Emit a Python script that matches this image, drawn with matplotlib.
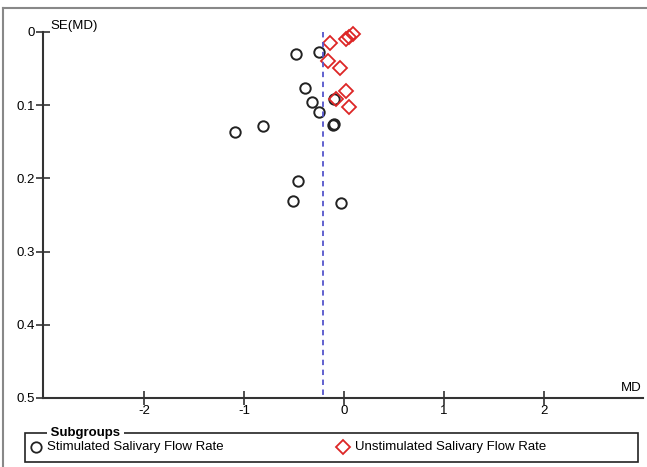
import matplotlib.pyplot as plt
from matplotlib.lines import Line2D
from matplotlib.patches import Rectangle

plt.rcParams['font.family'] = ['Liberation Sans', 'DejaVu Sans']

# stimulated salivary flow rate (circles)
stim_md = [-0.48, -0.25, -0.39, -0.32, -0.25, -0.10, -0.11, -0.10, -0.81, -1.09, -0.46, -0.51, -0.03]
stim_se = [0.030, 0.027, 0.077, 0.096, 0.109, 0.092, 0.127, 0.126, 0.128, 0.136, 0.204, 0.231, 0.234]

# unstimulated salivary flow rate (diamonds)
unst_md = [-0.14, 0.02, 0.05, 0.09, -0.16, -0.04, 0.02, -0.08, 0.05]
unst_se = [0.015, 0.010, 0.007, 0.003, 0.039, 0.049, 0.081, 0.092, 0.102]

pooled_md = -0.21
xticks = [-2, -1, 0, 1, 2]
yticks = [0, 0.1, 0.2, 0.3, 0.4, 0.5]

fig = plt.figure(figsize=(6.47, 4.67), dpi=100)
ax = fig.add_axes([43/647, 69/467, 600/647, 366/467])

ax.plot(stim_md, stim_se, 'o', ls='none', mfc='none', mec='#222222', ms=7.5, mew=1.4, clip_on=False)
ax.plot(unst_md, unst_se, 'D', ls='none', mfc='none', mec='#dd2626', ms=7, mew=1.3, clip_on=False)
ax.plot([pooled_md, pooled_md], [0, 0.5], ls=(0, (3, 2.5)), color='#5555cc', lw=1.3)

ax.set_xlim(-3.01, 2.99)
ax.set_ylim(0.5, 0)
ax.set_xticks(xticks)
ax.set_xticklabels([str(t) for t in xticks])
ax.set_yticks(yticks)
ax.set_yticklabels(['0', '0.1', '0.2', '0.3', '0.4', '0.5'])
ax.tick_params(direction='inout', length=10, width=1.2, labelsize=9.5, color='#333333')
ax.tick_params(axis='x', pad=0)
ax.tick_params(axis='y', pad=1)
for s in ['top', 'right']:
    ax.spines[s].set_visible(False)
for s in ['left', 'bottom']:
    ax.spines[s].set_linewidth(1.5)
    ax.spines[s].set_color('#333333')

ax.text(0.013, 1.0, 'SE(MD)', transform=ax.transAxes, fontsize=9.5, va='bottom', ha='left')
ax.text(0.998, 0.012, 'MD', transform=ax.transAxes, fontsize=9.5, va='bottom', ha='right')

# outer frame
fig.add_artist(Line2D([3/647, 3/647], [0, 1 - 8/467], transform=fig.transFigure, color='#888888', lw=1.5))
fig.add_artist(Line2D([3/647, 1], [1 - 8/467, 1 - 8/467], transform=fig.transFigure, color='#888888', lw=1.5))

# legend box
fig.add_artist(Rectangle((25/647, 5/467), 613/647, 29/467, transform=fig.transFigure,
                         fill=False, ec='#222222', lw=1.2))
fig.text(47/647, 1 - 433/467, ' Subgroups ', fontsize=9.5, weight='bold', va='center', ha='left',
         bbox=dict(fc='white', ec='none', pad=0))
fig.add_artist(Line2D([36/647], [1 - 447/467], transform=fig.transFigure, marker='o',
                      mfc='none', mec='#222222', ms=7.5, mew=1.3))
fig.text(47/647, 1 - 447/467, 'Stimulated Salivary Flow Rate', fontsize=9.5, va='center', ha='left')
fig.add_artist(Line2D([343/647], [1 - 447/467], transform=fig.transFigure, marker='D',
                      mfc='none', mec='#dd2626', ms=7.5, mew=1.3))
fig.text(355/647, 1 - 447/467, 'Unstimulated Salivary Flow Rate', fontsize=9.5, va='center', ha='left')

fig.savefig('out.png', dpi=100)
